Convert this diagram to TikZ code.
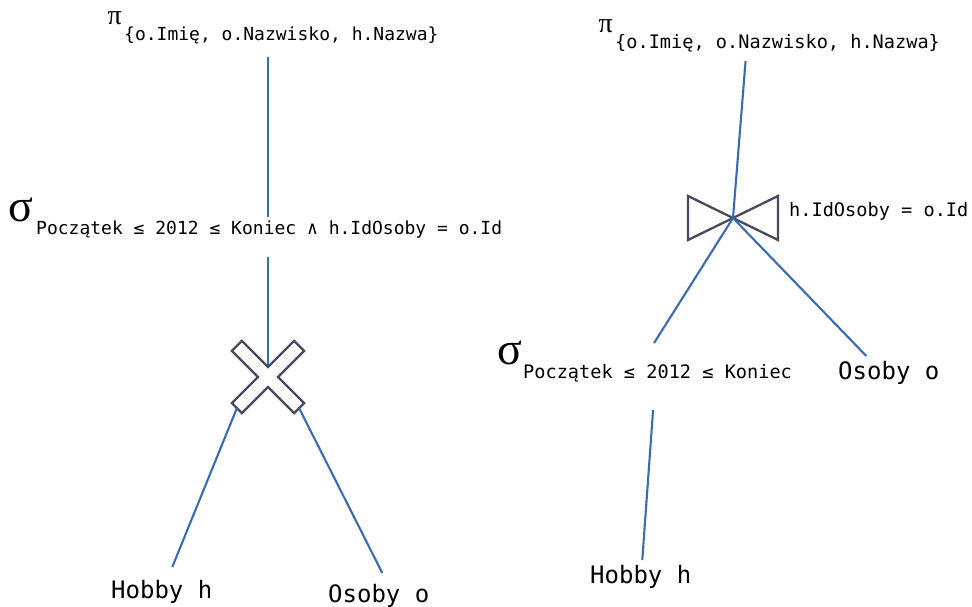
\documentclass[tikz,border=0pt]{standalone}
\usepackage{fontspec}
\setmonofont{DejaVu Sans Mono}
\newfontfamily\greekfont{Liberation Serif}
\usetikzlibrary{positioning, calc}
\definecolor{edgeblue}{RGB}{58,108,178}
\definecolor{opgray}{RGB}{72,72,98}

\begin{document}
\begin{tikzpicture}[x=1pt, y=1pt,
    edge/.style={draw=edgeblue, line width=2.1pt},
    opsym/.style={draw=opgray, line width=2.3pt, fill=white, line join=miter},
    subtxt/.style={font=\fontsize{#1}{#1}\selectfont\ttfamily, inner sep=0pt},
    subtxt/.default=18,
    reltxt/.style={font=\fontsize{24}{24}\selectfont\ttfamily, inner sep=0pt},
    bigpi/.style={font=\fontsize{28}{28}\selectfont\greekfont, inner sep=0pt},
    bigsigma/.style={font=\fontsize{46}{46}\selectfont\greekfont, inner sep=0pt}
  ]
\fill[white] (0,0) rectangle (972,606);
\useasboundingbox (0,0) rectangle (972,606);

% Left tree: selection over cross product
\node[subtxt, anchor=base west] (proj1) at (124,565) {\{o.Imię, o.Nazwisko, h.Nazwa\}};
\node[bigpi, above left=2pt and 2pt of proj1.north west] (pi1) {π};

\node[subtxt, anchor=base west] (sel1) at (36,371) {Początek ≤ 2012 ≤ Koniec ∧ h.IdOsoby = o.Id};
\node[bigsigma, above left=-1pt and 3pt of sel1.north west] (sigma1) {σ};

\coordinate (cross1) at (268,229);
\node[reltxt, anchor=base west] (hob1) at (111,8) {Hobby h};
\node[reltxt, anchor=base west] (oso1) at (328,4) {Osoby o};

\draw[edge] ($(proj1.base -| cross1)+(0,-16)$) -- ($(sel1.base -| cross1)+(0,18)$);
\draw[edge] ($(sel1.base -| cross1)+(0,-22)$) -- (cross1);

% Cross product symbol
\begin{scope}[shift={(cross1)}, rotate=45]
  \draw[opsym] (-7,44) -- (7,44) -- (7,7) -- (44,7) -- (44,-7) -- (7,-7) -- (7,-44)
    -- (-7,-44) -- (-7,-7) -- (-44,-7) -- (-44,7) -- (-7,7) -- cycle;
  \coordinate (cross1-sw) at (-44,0);
  \coordinate (cross1-se) at (0,-44);
\end{scope}

\draw[edge] (cross1-sw) -- ($(hob1.base)+(10.5,31)$);
\draw[edge] (cross1-se) -- ($(oso1.base)+(3.5,29)$);

% Right tree: join after pushing the selection down
\node[subtxt=18.6, anchor=base west] (proj2) at (615,557) {\{o.Imię, o.Nazwisko, h.Nazwa\}};
\node[bigpi, above left=2pt and 2pt of proj2.north west] (pi2) {π};

\coordinate (join2) at (733,388);
\node[subtxt=18.6, anchor=base west] (cond2) at (789,389) {h.IdOsoby = o.Id};

\node[subtxt=18.6, anchor=base west] (sel2) at (523,228) {Początek ≤ 2012 ≤ Koniec};
\node[bigsigma, above left=-1pt and 1pt of sel2.north west] (sigma2) {σ};

\node[reltxt, anchor=base west] (oso2) at (838,227) {Osoby o};
\node[reltxt, anchor=base west] (hob2) at (590,23) {Hobby h};

% Join symbol
\draw[opsym, fill=none] ($(join2)+(-45,22)$) -- ($(join2)+(45,-22)$) -- ($(join2)+(45,22)$)
  -- ($(join2)+(-45,-22)$) -- cycle;

\draw[edge] ($(proj2.base)+(-32,-12)$) -- (join2);
\draw[edge] (join2) -- ($(sel2.base)+(-3.5,35)$);
\draw[edge] (join2) -- ($(oso2.base)+(-22.5,23)$);
\draw[edge] ($(sel2.base)+(-4.5,-32)$) -- ($(hob2.base)+(1.5,23)$);

\end{tikzpicture}
\end{document}
